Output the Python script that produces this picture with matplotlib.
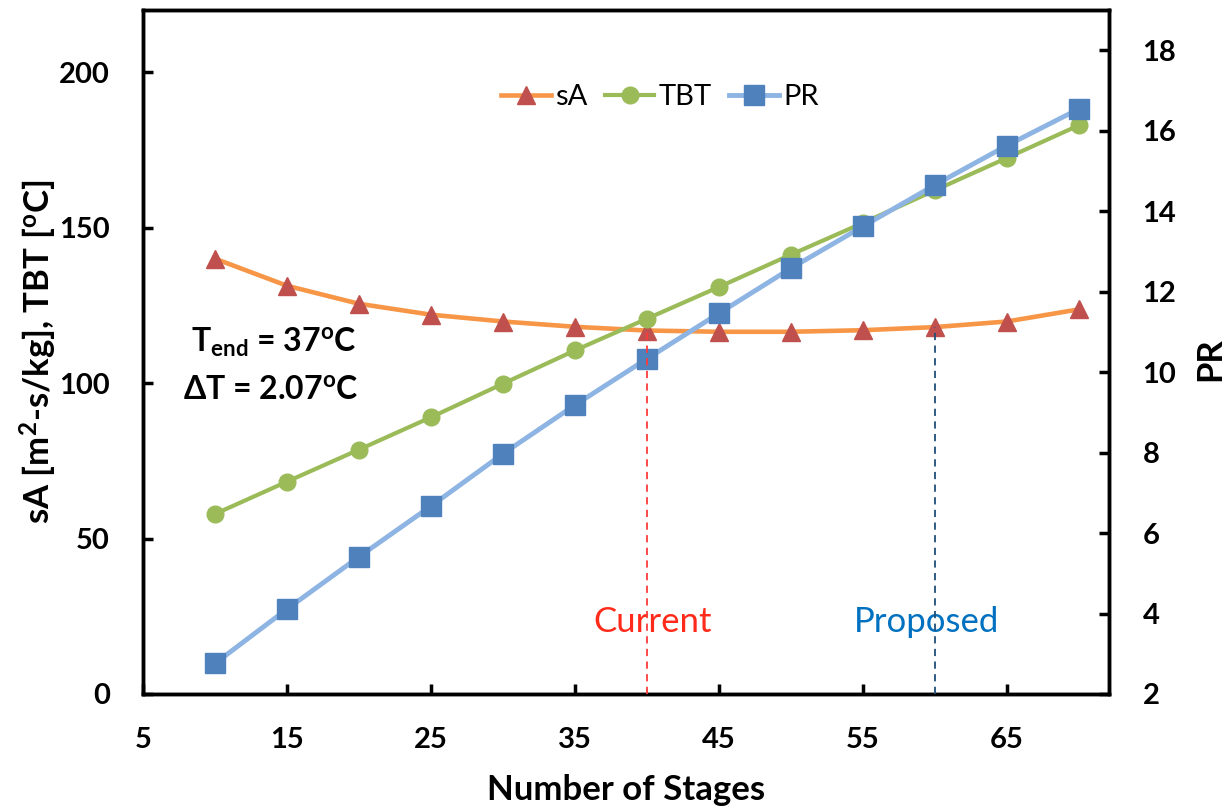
import matplotlib
matplotlib.use("Agg")
import matplotlib.pyplot as plt

# data
stages = [10, 15, 20, 25, 30, 35, 40, 45, 50, 55, 60, 65, 70]
sA = [140.0, 131.3, 125.5, 122.0, 119.8, 118.1, 116.9, 116.5, 116.5, 117.0, 118.0, 119.8, 123.7]
tbt = [57.9, 68.3, 78.6, 89.0, 99.8, 110.5, 120.7, 130.9, 141.3, 151.5, 162.0, 172.4, 182.9]
pr = [2.76, 4.11, 5.41, 6.67, 7.97, 9.18, 10.33, 11.46, 12.58, 13.62, 14.65, 15.63, 16.54]

x_ticks = [5, 15, 25, 35, 45, 55, 65]
left_ticks = [0, 50, 100, 150, 200]
right_ticks = [2, 4, 6, 8, 10, 12, 14, 16, 18]

current_stage = 40
proposed_stage = 60

FONT = "Lato"

plt.rcParams["mathtext.fontset"] = "custom"
plt.rcParams["mathtext.rm"] = "Lato:bold"
plt.rcParams["mathtext.it"] = "Lato:bold"
plt.rcParams["mathtext.bf"] = "Lato:bold"

fig = plt.figure(figsize=(12.29, 8.11), dpi=100)
ax = fig.add_axes([0.1164, 0.1443, 0.786, 0.8434])
ax2 = ax.twinx()

l1, = ax.plot(stages, sA, color="#F79646", lw=3.3, marker="^", markersize=13,
              markerfacecolor="#C0504D", markeredgecolor="#C0504D", label="sA", zorder=3)
l2, = ax.plot(stages, tbt, color="#9BBB59", lw=3.0, marker="o", markersize=12,
              markerfacecolor="#9BBB59", markeredgecolor="#9BBB59", label="TBT", zorder=4)
l3, = ax2.plot(stages, pr, color="#8DB4E2", lw=3.5, marker="s", markersize=14,
               markerfacecolor="#4F81BD", markeredgecolor="#4F81BD", label="PR", zorder=3)

# dashed markers for current / proposed design, on top, in left-axis data coords
cur_y = sA[stages.index(current_stage)]
prop_y = sA[stages.index(proposed_stage)]
ax2.plot([current_stage, current_stage], [0, cur_y], transform=ax.transData,
         color="#FF3B3B", lw=1.3, ls=(0, (4, 3)), zorder=5)
ax2.plot([proposed_stage, proposed_stage], [0, prop_y], transform=ax.transData,
         color="#1F4E79", lw=1.3, ls=(0, (4, 3)), zorder=5)

ax.text(current_stage + 0.4, 23, "Current", color="#FF2A1A", fontsize=25,
        family=FONT, ha="center", va="center", zorder=6)
ax.text(proposed_stage - 0.6, 23, "Proposed", color="#0070C0", fontsize=25,
        family=FONT, ha="center", va="center", zorder=6)

ax.text(8.35, 113, r"T$_{\mathbf{end}}$ = 37$^{\mathbf{o}}$C", fontsize=23, fontweight="bold",
        family=FONT, ha="left", va="center")
ax.text(7.8, 98, r"$\Delta$T = 2.07$^{\mathbf{o}}$C", fontsize=23, fontweight="bold",
        family=FONT, ha="left", va="center")

ax.set_xlim(5, 72.1)
ax.set_ylim(0, 220)
ax2.set_ylim(2, 19)
ax.set_xticks(x_ticks)
ax.set_yticks(left_ticks)
ax2.set_yticks(right_ticks)

for a in (ax, ax2):
    for sp in a.spines.values():
        sp.set_linewidth(2.5)
    a.tick_params(direction="in", length=7, width=2.5, labelsize=21, pad=24)
    for lab in a.get_xticklabels() + a.get_yticklabels():
        lab.set_fontweight("bold")
        lab.set_family(FONT)

ax.set_xlabel("Number of Stages", fontsize=25, fontweight="bold", family=FONT)
ax.set_ylabel(r"sA [m$^{2}$-s/kg], TBT [$^{\mathrm{o}}$C]", fontsize=25, fontweight="bold", family=FONT)
ax2.set_ylabel("PR", fontsize=25, fontweight="bold", family=FONT)
ax.xaxis.set_label_coords(0.5, -0.140)
ax.yaxis.set_label_coords(-0.1087, 0.5)
ax2.yaxis.set_label_coords(1.1046, 0.49)
for lbl in (ax.xaxis.label, ax.yaxis.label, ax2.yaxis.label):
    lbl.set_verticalalignment("center")
    lbl.set_horizontalalignment("center")

leg = ax2.legend(handles=[l1, l2, l3], loc="center", bbox_to_anchor=(0.535, 0.873), ncol=3,
                 frameon=False, prop={"family": FONT, "size": 21},
                 handlelength=1.7, handletextpad=0.15, columnspacing=0.6)

fig.savefig("out.png", dpi=100)
